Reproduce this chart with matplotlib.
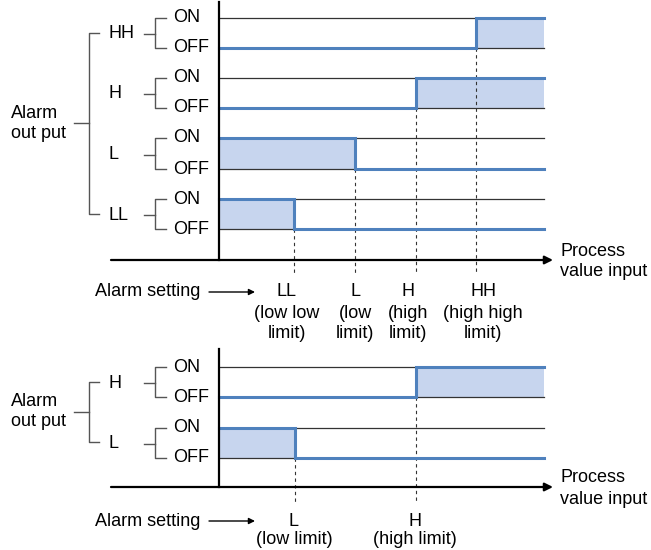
import matplotlib.pyplot as plt

plt.rcParams['font.family'] = ['Liberation Sans', 'DejaVu Sans']

# diagram data (pixel positions of the process value axis)
top_levels = ["HH", "H", "L", "LL"]
top_on_high = [True, True, False, False]      # ON above set point (HH, H) or below (L, LL)
top_setpoints = [476, 416, 355, 294]
top_on_y = [18, 78, 138, 199]
top_off_y = [48, 108, 169, 229]
top_labels = ["LL", "L", "H", "HH"]
top_label_x = [287, 355, 408, 483]
top_label_sub = [["(low low", "limit)"], ["(low", "limit)"],
                 ["(high", "limit)"], ["(high high", "limit)"]]

bot_levels = ["H", "L"]
bot_on_high = [True, False]
bot_setpoints = [416, 295]
bot_on_y = [367, 428]
bot_off_y = [397, 458]
bot_labels = ["L", "H"]
bot_label_x = [294, 415]
bot_label_sub = ["(low limit)", "(high limit)"]

BLUE = "#4F81BD"
FILL = "#C7D5EE"
GREY = "#555555"
X0, X1 = 219, 544
FS = 13

fig = plt.figure(figsize=(6.51, 5.50), dpi=100)
ax = fig.add_axes([0, 0, 1, 1])
ax.set_xlim(0, 651)
ax.set_ylim(550, 0)
ax.axis("off")


def draw_row(y_on, y_off, sp, on_high):
    ax.plot([X0, X1], [y_on, y_on], color="#333333", lw=0.9, zorder=2)
    ax.plot([X0, X1], [y_off, y_off], color="#333333", lw=0.9, zorder=2)
    if on_high:
        xs = [X0, sp, sp, X1]
        ys = [y_off, y_off, y_on, y_on]
        ax.fill_between([sp, X1], y_on, y_off, color=FILL, lw=0, zorder=1)
    else:
        xs = [X0, sp, sp, X1]
        ys = [y_on, y_on, y_off, y_off]
        ax.fill_between([X0, sp], y_on, y_off, color=FILL, lw=0, zorder=1)
    ax.plot(xs, ys, color=BLUE, lw=2.2, zorder=3, solid_joinstyle="miter")


def draw_labels(levels, on_y, off_y, alarm_y, big_top, big_bot):
    # "Alarm out put" and big bracket
    ax.text(11, alarm_y - 10, "Alarm", fontsize=FS, va="center", ha="left")
    ax.text(11, alarm_y + 10, "out put", fontsize=FS, va="center", ha="left")
    ax.plot([74, 89], [alarm_y, alarm_y], color=GREY, lw=1)
    ax.plot([99, 89, 89, 99], [big_top, big_top, big_bot, big_bot], color=GREY, lw=1)
    for name, yon, yoff in zip(levels, on_y, off_y):
        ym = (yon + yoff) / 2 + 1
        ax.text(109, ym, name, fontsize=FS, va="center", ha="left")
        ax.plot([144, 155], [ym, ym], color=GREY, lw=1)
        ax.plot([166, 155, 155, 166], [yon, yon, yoff, yoff], color=GREY, lw=1)
        ax.text(173, yon, "ON", fontsize=FS, va="center", ha="left")
        ax.text(173, yoff, "OFF", fontsize=FS, va="center", ha="left")


def draw_axes(y_top, y_axis, y_set):
    ax.plot([X0, X0], [y_top, y_axis], color="black", lw=1.6, zorder=4)
    ax.annotate("", xy=(553, y_axis), xytext=(111, y_axis),
                arrowprops=dict(arrowstyle="-|>", color="black", lw=1.6,
                                mutation_scale=12, shrinkA=0, shrinkB=0))
    ax.text(560, y_axis - 9, "Process", fontsize=FS, va="center", ha="left")
    ax.text(560, y_axis + 12, "value input", fontsize=FS, va="center", ha="left")
    ax.text(95, y_set, "Alarm setting", fontsize=FS, va="center", ha="left")
    ax.annotate("", xy=(255, y_set), xytext=(209, y_set),
                arrowprops=dict(arrowstyle="-|>", color="black", lw=1,
                                mutation_scale=9, shrinkA=0, shrinkB=0))


# ---- top diagram ----
for sp, yon, yoff, hi in zip(top_setpoints, top_on_y, top_off_y, top_on_high):
    draw_row(yon, yoff, sp, hi)
    ax.plot([sp, sp], [yoff, 273], color="#333333", lw=0.8, ls=(0, (3, 3)), zorder=2)
draw_labels(top_levels, top_on_y, top_off_y, 123, 33, 214)
draw_axes(2, 260, 292)
for lab, x, sub in zip(top_labels, top_label_x, top_label_sub):
    ax.text(x, 292, lab, fontsize=FS, va="center", ha="center")
    ax.text(x, 313, sub[0], fontsize=FS, va="center", ha="center")
    ax.text(x, 334, sub[1], fontsize=FS, va="center", ha="center")

# ---- bottom diagram ----
for sp, yon, yoff, hi in zip(bot_setpoints, bot_on_y, bot_off_y, bot_on_high):
    draw_row(yon, yoff, sp, hi)
    ax.plot([sp, sp], [yoff, 503], color="#333333", lw=0.8, ls=(0, (3, 3)), zorder=2)
draw_labels(bot_levels, bot_on_y, bot_off_y, 412, 382, 442)
draw_axes(349, 487, 521)
for lab, x, sub in zip(bot_labels, bot_label_x, bot_label_sub):
    ax.text(x, 521, lab, fontsize=FS, va="center", ha="center")
    ax.text(x, 540, sub, fontsize=FS, va="center", ha="center")

fig.savefig("out.png", dpi=100)
